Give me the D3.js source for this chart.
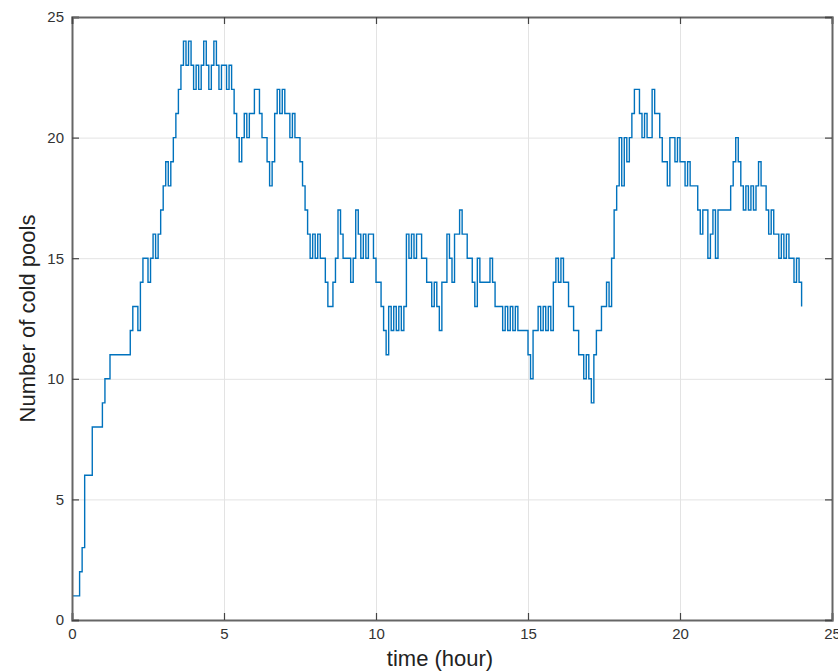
<html>
<head>
<meta charset="utf-8">
<style>
    body { margin:0; background:#fff; }
    text { font-family: "Liberation Sans", Arial, sans-serif; }
</style>
<script src="https://d3js.org/d3.v7.min.js" charset="utf-8"></script>
</head>
<body>
<div id="chart"></div>
<script>
    // number of cold pools, sampled every 5 minutes from 0 to 24 h (one row per hour)
    var coldPools = [
        1,1,1,2,3,6,6,6,8,8,8,8,
        9,10,10,11,11,11,11,11,11,11,11,12,
        13,13,12,14,15,15,14,15,16,15,16,17,
        18,19,18,19,20,21,22,23,24,23,24,23,
        22,23,22,23,24,23,22,23,24,23,22,23,
        23,22,23,22,21,20,19,20,21,20,21,21,
        22,22,21,20,20,19,18,19,21,22,21,22,
        21,21,20,21,20,20,19,18,17,16,15,16,
        15,16,15,15,14,13,13,14,15,17,16,15,
        15,15,14,15,17,16,15,16,15,16,16,15,
        14,14,13,12,11,13,12,13,12,13,12,13,
        16,15,16,15,16,16,15,15,14,14,13,14,
        13,12,14,14,16,15,14,16,16,17,16,16,
        15,15,14,13,15,14,14,14,14,15,14,13,
        13,13,12,13,12,13,12,13,12,12,12,12,
        11,10,12,12,13,12,13,12,13,12,14,15,
        14,15,14,14,13,13,12,12,11,11,10,11,
        10,9,11,12,12,13,13,14,13,15,17,18,
        20,18,20,19,20,21,22,22,21,20,21,20,
        20,22,21,21,20,19,19,18,20,20,19,20,
        19,19,18,19,18,18,18,17,16,17,17,15,
        16,17,15,17,17,17,17,17,18,19,20,19,
        18,17,18,17,18,17,18,19,18,18,17,16,
        17,16,16,15,16,15,16,15,15,14,15,14,13
    ];
    var stepMinutes = 5;
    var xTicks = [0, 5, 10, 15, 20, 25];
    var yTicks = [0, 5, 10, 15, 20, 25];

    //************************************************************
    // Configuration
    //************************************************************
    var margin = { top: 17, right: 6, bottom: 51, left: 72 };
    var width = 838 - margin.left - margin.right;
    var height = 671 - margin.top - margin.bottom;

    var svg = d3.select("#chart").append("svg")
        .attr("width", 838)
        .attr("height", 671);

    var g = svg.append("g")
        .attr("transform", "translate(" + margin.left + "," + margin.top + ")");

    var x = d3.scaleLinear().domain([0, 25]).range([0, width]);
    var y = d3.scaleLinear().domain([0, 25]).range([height, 0]);

    //grid lines
    g.append("g")
        .attr("class", "grid")
        .attr("transform", "translate(0," + height + ")")
        .call(d3.axisBottom(x).tickValues(xTicks).tickSize(-height).tickFormat(""));
    g.append("g")
        .attr("class", "grid")
        .call(d3.axisLeft(y).tickValues(yTicks).tickSize(-width).tickFormat(""));
    g.selectAll(".grid line").attr("stroke", "#e3e3e3").attr("stroke-width", 1);
    g.selectAll(".grid .domain").remove();

    //the series as a stair line
    var line = d3.line()
        .x(function(d, i) { return x(i * stepMinutes / 60); })
        .y(function(d) { return y(d); })
        .curve(d3.curveStepAfter);

    g.append("path")
        .datum(coldPools)
        .attr("fill", "none")
        .attr("stroke", "#0072BD")
        .attr("stroke-width", 1.4)
        .attr("d", line);

    //axes with inward ticks on all four sides
    var bottom = g.append("g").attr("transform", "translate(0," + height + ")")
        .call(d3.axisBottom(x).tickValues(xTicks).tickSize(-7).tickPadding(8));
    var left = g.append("g")
        .call(d3.axisLeft(y).tickValues(yTicks).tickSize(-7).tickPadding(8));
    var top = g.append("g")
        .call(d3.axisTop(x).tickValues(xTicks).tickSize(-7).tickFormat(""));
    var right = g.append("g").attr("transform", "translate(" + width + ",0)")
        .call(d3.axisRight(y).tickValues(yTicks).tickSize(-7).tickFormat(""));

    g.selectAll(".domain").attr("stroke", "#666").attr("stroke-width", 2);
    g.selectAll(".tick line").filter(function() { return !this.closest(".grid"); })
        .attr("stroke", "#444").attr("stroke-width", 1.2);
    g.selectAll(".tick text")
        .attr("fill", "#333")
        .style("font-size", "15px");

    //axis titles
    svg.append("text")
        .attr("x", margin.left + width / 2 - 12)
        .attr("y", 666)
        .attr("text-anchor", "middle")
        .attr("fill", "#222")
        .style("font-size", "22px")
        .text("time (hour)");

    svg.append("text")
        .attr("transform", "translate(35," + (margin.top + height / 2) + ") rotate(-90)")
        .attr("text-anchor", "middle")
        .attr("fill", "#222")
        .style("font-size", "22px")
        .text("Number of cold pools");
</script>
</body>
</html>
